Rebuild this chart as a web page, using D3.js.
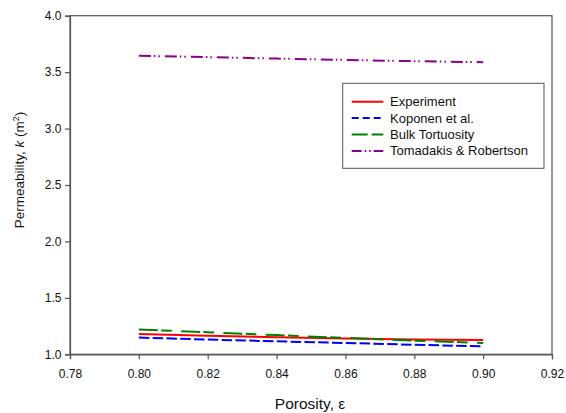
<!DOCTYPE html>
<html>
<head>
<meta charset="utf-8">
<script src="https://cdn.jsdelivr.net/npm/d3@7"></script>
<style>
  html, body { margin: 0; padding: 0; background: #fff; }
  svg { display: block; font-family: "Liberation Sans", Arial, sans-serif; }
</style>
</head>
<body>
<svg id="chart" width="566" height="413"></svg>
<script>
// Porosity sample points
const porosity = [0.80, 0.82, 0.84, 0.86, 0.88, 0.90];

// Permeability for each model
const experiment = [1.180, 1.165, 1.150, 1.140, 1.131, 1.127];
const koponen    = [1.148, 1.131, 1.115, 1.100, 1.085, 1.070];
const bulkTort   = [1.220, 1.195, 1.170, 1.145, 1.121, 1.100];
const tomadakis  = [3.645, 3.633, 3.620, 3.608, 3.597, 3.588];

const seriesNames = ["Experiment", "Koponen et al.", "Bulk Tortuosity", "Tomadakis & Robertson"];
const xTicks = [0.78, 0.80, 0.82, 0.84, 0.86, 0.88, 0.90, 0.92];
const yTicks = [1.0, 1.5, 2.0, 2.5, 3.0, 3.5, 4.0];

const svg = d3.select("#chart");
const m = { left: 70, right: 552, top: 15.7, bottom: 354.3 };

const x = d3.scaleLinear().domain([0.78, 0.92]).range([m.left, m.right]);
const y = d3.scaleLinear().domain([1.0, 4.0]).range([m.bottom, m.top]);

const axisColor = "#555";
const fontFam = "'Liberation Sans', Arial, sans-serif";

// plot frame
svg.append("rect")
  .attr("x", m.left).attr("y", m.top)
  .attr("width", m.right - m.left).attr("height", m.bottom - m.top)
  .attr("fill", "none").attr("stroke", axisColor).attr("stroke-width", 1.2);

const xAxis = svg.append("g")
  .attr("transform", `translate(0,${m.bottom})`)
  .call(d3.axisBottom(x).tickValues(xTicks).tickFormat(d3.format(".2f")).tickSize(5).tickPadding(10));
const yAxis = svg.append("g")
  .attr("transform", `translate(${m.left},0)`)
  .call(d3.axisLeft(y).tickValues(yTicks).tickFormat(d3.format(".1f")).tickSize(5).tickPadding(3.5));

[xAxis, yAxis].forEach(g => {
  g.select(".domain").attr("stroke", axisColor).attr("stroke-width", 1.2);
  g.selectAll(".tick line").attr("stroke", axisColor).attr("stroke-width", 1.2);
  g.selectAll(".tick text").attr("fill", "#111").style("font-size", "12px")
    .style("font-family", fontFam);
});

// axis titles
svg.append("text")
  .attr("x", 310).attr("y", 409)
  .attr("text-anchor", "middle").style("font-size", "15.5px").attr("fill", "#111")
  .text("Porosity, ε");

const yl = svg.append("text")
  .attr("transform", "translate(24,170) rotate(-90)")
  .attr("text-anchor", "middle").style("font-size", "13.5px").attr("fill", "#111");
yl.append("tspan").text("Permeability, ");
yl.append("tspan").attr("font-style", "italic").text("k");
yl.append("tspan").text(" (m");
yl.append("tspan").attr("dy", -5).style("font-size", "9px").text("2");
yl.append("tspan").attr("dy", 5).text(")");

// series styles
const styles = [
  { values: experiment, color: "#ff0000", dash: null,                  legendDash: null },
  { values: koponen,    color: "#0000ff", dash: "10.5,3.3",            legendDash: "7,4" },
  { values: bulkTort,   color: "#008000", dash: "19,3.3,10.7,9.3",     legendDash: "16,4" },
  { values: tomadakis,  color: "#8b008b", dash: "12,3,1.5,3,1.5,5",    legendDash: "10,3,1.5,3,1.5,3" }
];

const line = d3.line().x((d, i) => x(porosity[i])).y(d => y(d));

styles.forEach(s => {
  svg.append("path")
    .datum(s.values)
    .attr("d", line)
    .attr("fill", "none")
    .attr("stroke", s.color)
    .attr("stroke-width", 2)
    .attr("stroke-dasharray", s.dash);
});

// legend
const lg = svg.append("g");
lg.append("rect")
  .attr("x", 342.7).attr("y", 83.3).attr("width", 201.3).attr("height", 85)
  .attr("fill", "#fff").attr("stroke", axisColor).attr("stroke-width", 1);

seriesNames.forEach((name, i) => {
  const cy = 101.7 + i * 16.4;
  lg.append("line")
    .attr("x1", 351.7).attr("x2", 383.3).attr("y1", cy).attr("y2", cy)
    .attr("stroke", styles[i].color).attr("stroke-width", 2)
    .attr("stroke-dasharray", styles[i].legendDash);
  lg.append("text")
    .attr("x", 390).attr("y", cy + 4.5)
    .style("font-size", "13px").attr("fill", "#111")
    .text(name);
});
</script>
</body>
</html>
